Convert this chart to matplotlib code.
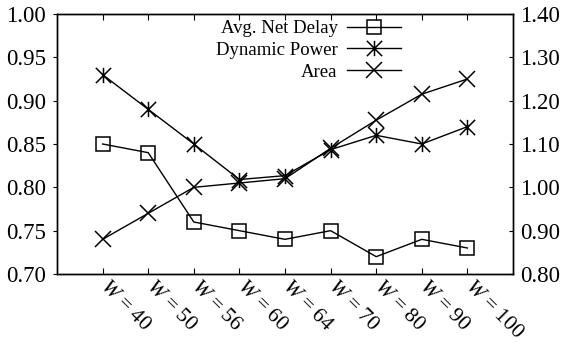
import numpy as np
import matplotlib
matplotlib.use('Agg')
from matplotlib import pyplot as plt
from matplotlib.path import Path

plt.rcParams['font.family'] = ['Liberation Serif']
plt.rcParams['font.serif'] = ['Liberation Serif']
plt.rcParams['mathtext.fontset'] = 'custom'
plt.rcParams['mathtext.it'] = 'Liberation Serif:italic'
plt.rcParams['mathtext.rm'] = 'Liberation Serif'

labels = ['40', '50', '56', '60', '64', '70', '80', '90', '100']
net_delay = [0.85, 0.84, 0.76, 0.75, 0.74, 0.75, 0.72, 0.74, 0.73]          # left axis
dyn_power = [1.26, 1.18, 1.10, 1.018, 1.027, 1.087, 1.12, 1.10, 1.14]        # right axis
area = [0.88, 0.94, 1.00, 1.01, 1.02, 1.09, 1.155, 1.215, 1.25]              # right axis

left_ticks = [0.70, 0.75, 0.80, 0.85, 0.90, 0.95, 1.00]
right_ticks = [0.80, 0.90, 1.00, 1.10, 1.20, 1.30, 1.40]

x = np.arange(1, len(labels) + 1)

# gnuplot style asterisk: x plus vertical bar
star = Path([(0, -1), (0, 1), (-1, -1), (1, 1), (-1, 1), (1, -1)],
            [Path.MOVETO, Path.LINETO, Path.MOVETO, Path.LINETO, Path.MOVETO, Path.LINETO])

fig = plt.figure(figsize=(5.71, 3.47), dpi=100)
ax = fig.add_axes([57/571, 1 - 274/347, 456/571, 260/347])
ax2 = ax.twinx()

l1, = ax.plot(x, net_delay, color='black', lw=1, marker='s', ms=10,
              mfc='none', mec='black', mew=1.1, label='Avg. Net Delay')
l2, = ax2.plot(x, dyn_power, color='black', lw=1, marker=star, ms=11,
               mew=1.1, label='Dynamic Power')
l3, = ax2.plot(x, area, color='black', lw=1, marker='x', ms=11,
               mew=1.1, label='Area')

ax.set_xlim(0, 10)
ax.set_ylim(0.70, 1.00)
ax2.set_ylim(0.80, 1.40)
ax.set_yticks(left_ticks)
ax.set_yticklabels(['%.2f' % v for v in left_ticks], fontfamily='Liberation Serif', fontsize=16.5)
ax2.set_yticks(right_ticks)
ax2.set_yticklabels(['%.2f' % v for v in right_ticks], fontfamily='Liberation Serif', fontsize=16.5)

ax.set_xticks(x)
ax.set_xticklabels([r'$W$ = ' + s for s in labels], rotation=-45, fontsize=15.5,
                   fontfamily='Liberation Serif',
                   ha='left', va='center', rotation_mode='anchor')
ax.tick_params(axis='x', direction='in', top=True, length=4, pad=7)
ax.tick_params(axis='y', direction='out', length=3, pad=5)
ax2.tick_params(axis='y', direction='in', length=3, pad=5)
for a in (ax, ax2):
    for s in a.spines.values():
        s.set_linewidth(1)

ax.legend(handles=[l1, l2, l3], loc='upper right', bbox_to_anchor=(0.78, 1.02),
          frameon=False, markerfirst=False, fontsize=13.5, handlelength=2.9,
          labelspacing=0.25, handletextpad=0.5, borderaxespad=0.2)

fig.savefig('out.png', dpi=100)
